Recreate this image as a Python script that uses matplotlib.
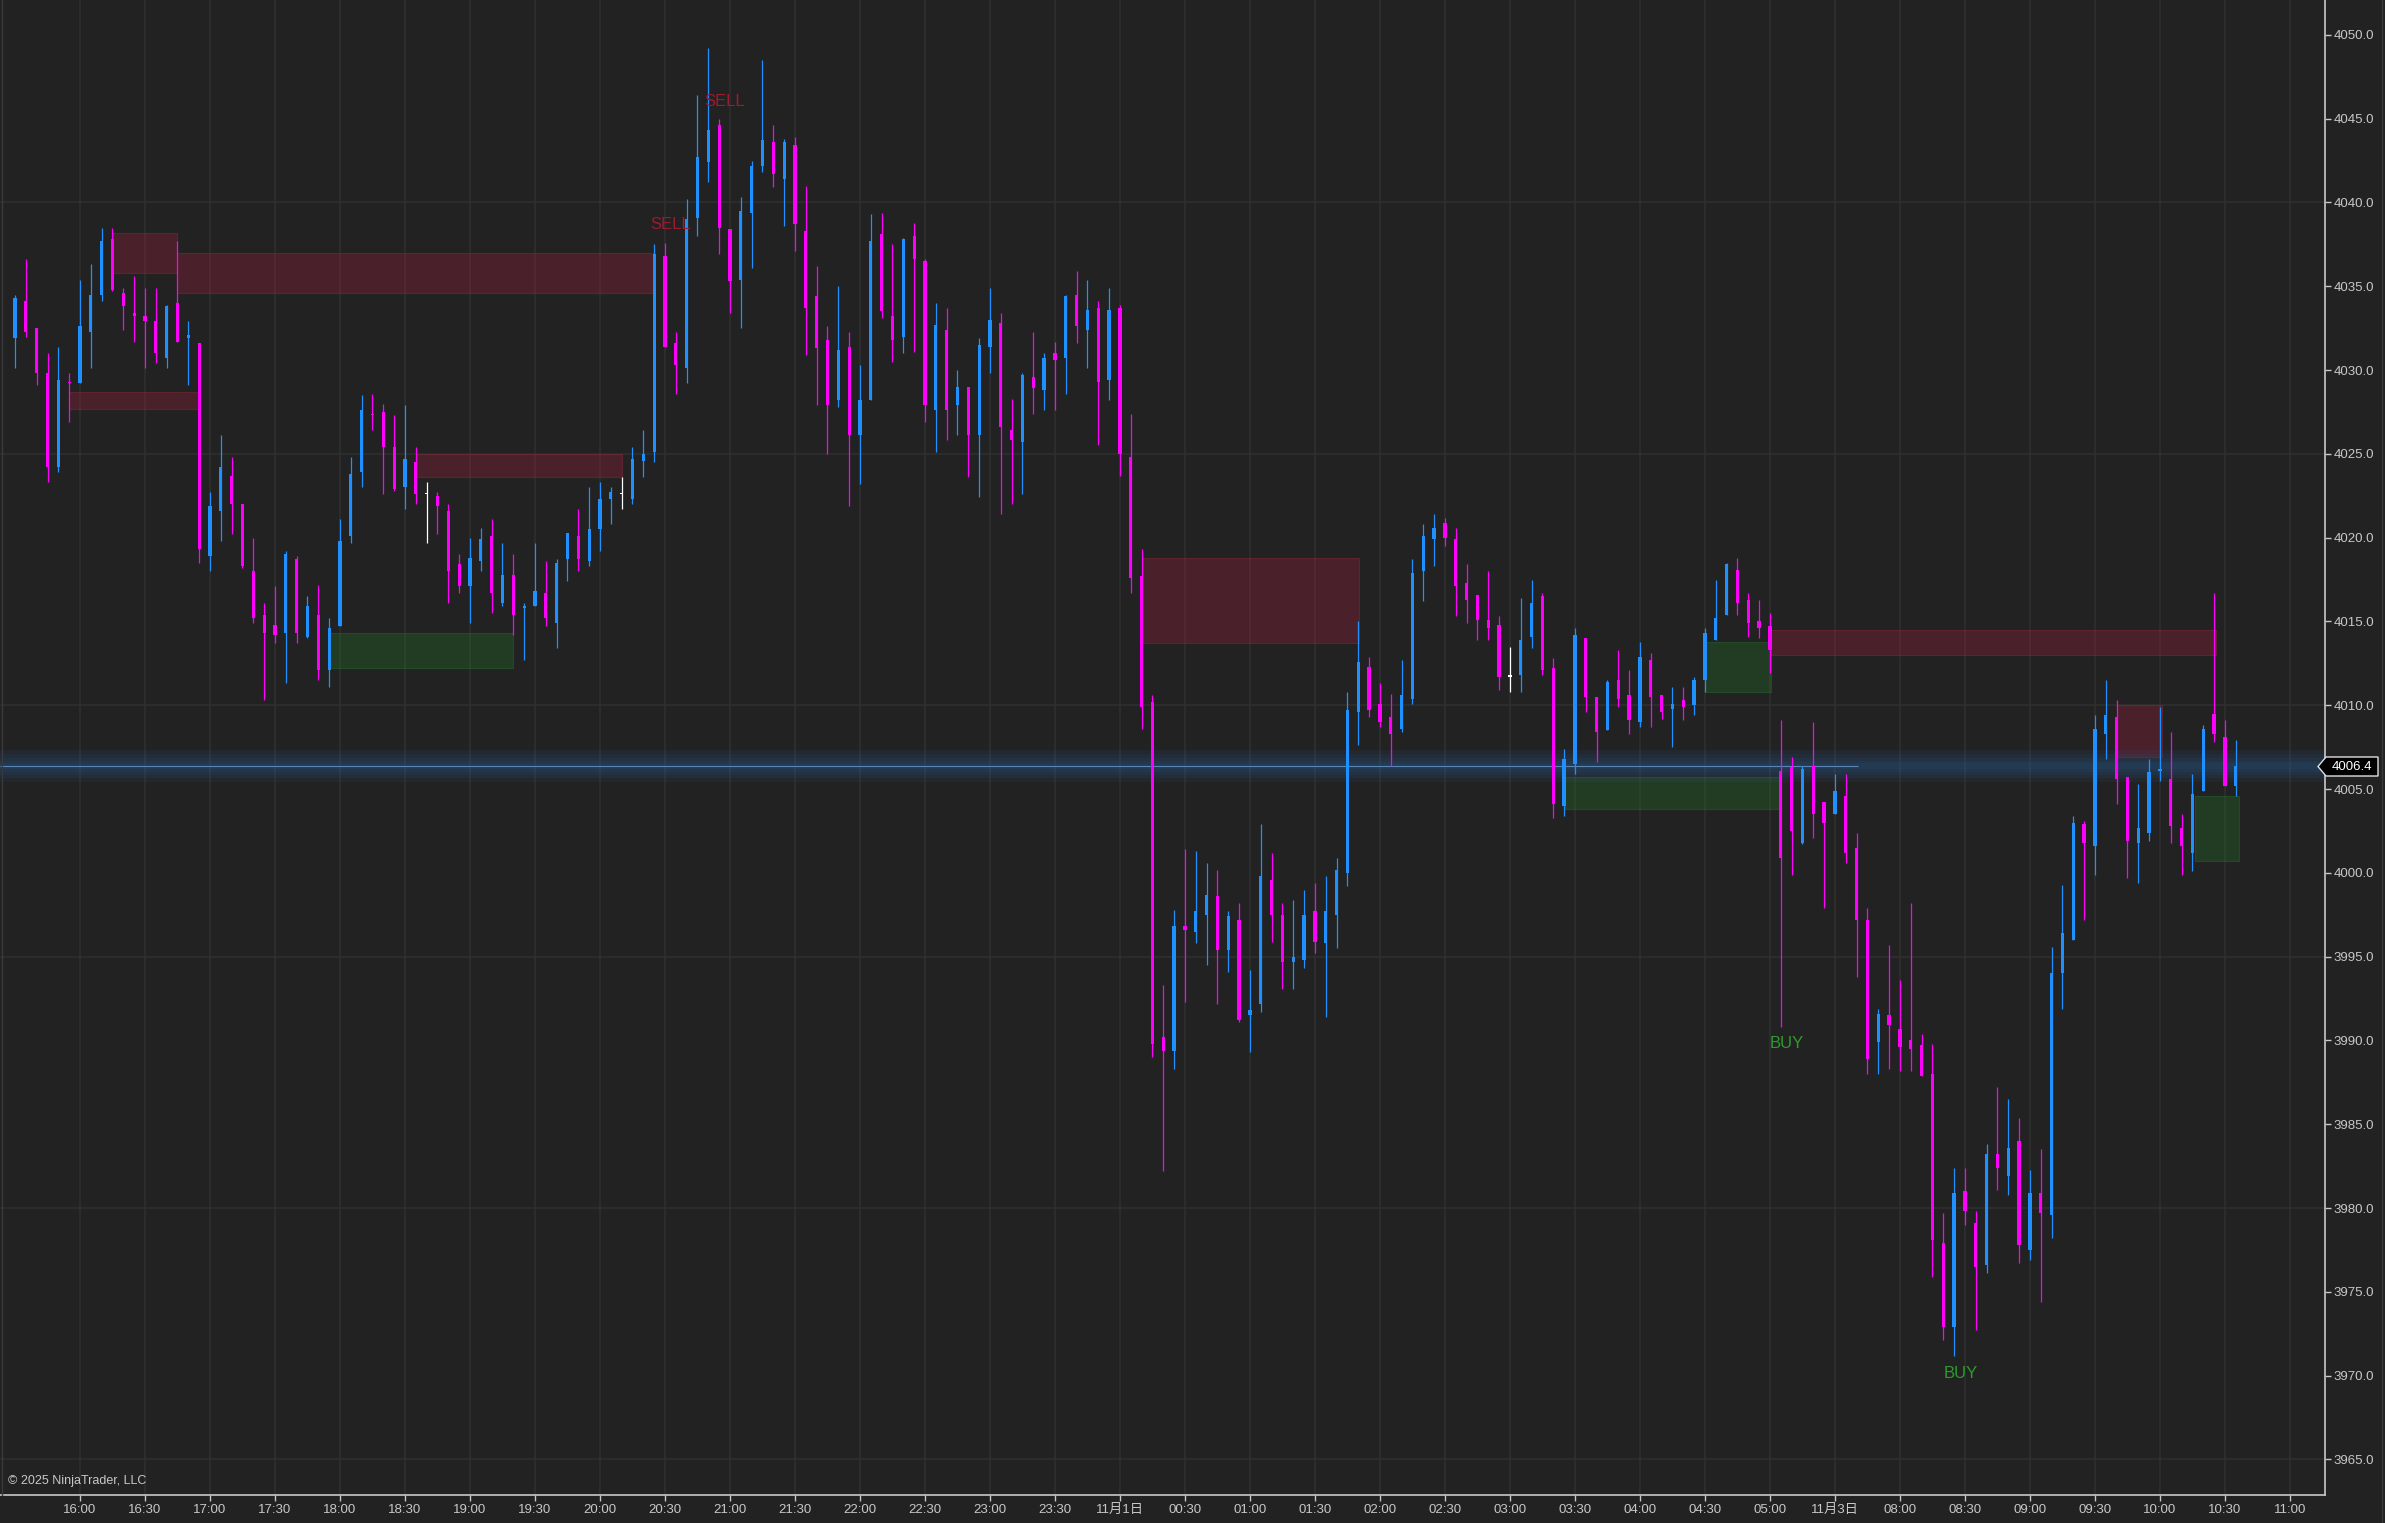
import matplotlib
matplotlib.use('Agg')
import matplotlib.pyplot as plt
import numpy as np
from matplotlib.patches import Rectangle, Polygon
from matplotlib.lines import Line2D

# 5-minute bars, 15:30 (Oct 31) .. 05:00 (Nov 1), then 07:05 .. 10:35 (Nov 3)
opens = [4031.9, 4034.1, 4032.5, 4029.8, 4024.2, 4029.3, 4029.2, 4032.3, 4034.5, 4037.8,
         4034.6, 4033.4, 4033.2, 4032.9, 4030.7, 4034.0, 4031.9, 4031.6, 4018.9, 4021.6,
         4023.7, 4022.0, 4018.0, 4015.4, 4014.8, 4014.3, 4018.7, 4014.1, 4015.4, 4012.1,
         4014.7, 4020.1, 4023.9, 4027.4, 4027.5, 4025.4, 4023.0, 4024.5, 4022.6, 4022.5,
         4021.6, 4018.4, 4017.1, 4018.6, 4020.1, 4016.1, 4017.8, 4015.8, 4015.9, 4016.7,
         4014.9, 4018.7, 4020.1, 4018.6, 4020.5, 4022.3, 4022.6, 4022.3, 4024.6, 4025.1,
         4036.8, 4031.6, 4030.1, 4039.1, 4042.4, 4044.6, 4038.4, 4035.4, 4039.4, 4042.2,
         4043.6, 4041.4, 4043.4, 4038.3, 4034.4, 4031.8, 4028.2, 4031.4, 4026.1, 4028.2,
         4038.1, 4033.2, 4032.0, 4038.0, 4036.5, 4027.6, 4032.4, 4027.9, 4029.0, 4026.1,
         4031.4, 4032.8, 4026.4, 4025.7, 4029.6, 4028.8, 4031.0, 4030.7, 4034.5, 4032.4,
         4033.7, 4029.4, 4033.7, 4024.8, 4017.7, 4010.2, 3990.2, 3989.4, 3996.8, 3996.5,
         3997.5, 3998.6, 3995.4, 3997.2, 3991.5, 3992.2, 3999.6, 3997.5, 3994.7, 3994.8,
         3997.7, 3995.8, 3997.5, 4000.0, 4009.6, 4012.3, 4010.1, 4009.3, 4008.6, 4010.4,
         4018.0, 4019.9, 4020.9, 4019.9, 4017.3, 4016.6, 4015.1, 4014.8, 4011.7, 4011.8,
         4014.1, 4016.5, 4012.2, 4004.0, 4006.5, 4014.0, 4010.5, 4008.5, 4011.5, 4010.6,
         4009.0, 4012.7, 4010.6, 4009.8, 4010.3, 4010.0, 4011.5, 4013.9, 4015.4, 4018.1,
         4016.3, 4015.0, 4014.7, 4006.1, 4006.3, 4001.8, 4006.4, 4004.2, 4003.5, 4004.6,
         4001.5, 3997.2, 3989.9, 3991.5, 3990.7, 3990.0, 3989.7, 3988.0, 3977.9, 3972.9,
         3981.0, 3979.1, 3976.6, 3983.2, 3981.9, 3984.0, 3977.5, 3980.9, 3979.6, 3994.0,
         3996.0, 4002.9, 4001.6, 4008.3, 4009.3, 4005.7, 4001.8, 4002.4, 4006.1, 4005.6,
         4002.7, 4001.2, 4004.9, 4009.5, 4008.1, 4005.2]
highs = [4034.5, 4036.6, 4032.5, 4031.0, 4031.4, 4029.8, 4035.4, 4036.3, 4038.5, 4038.5,
         4034.9, 4035.6, 4034.9, 4034.9, 4033.9, 4037.7, 4032.9, 4031.6, 4022.7, 4026.1,
         4024.8, 4022.0, 4020.0, 4016.1, 4017.1, 4019.2, 4018.9, 4016.5, 4017.2, 4015.2,
         4021.1, 4024.8, 4028.5, 4028.6, 4028.0, 4027.3, 4027.9, 4025.4, 4023.3, 4022.7,
         4022.0, 4019.0, 4020.0, 4020.6, 4021.1, 4019.7, 4019.0, 4016.1, 4019.7, 4018.6,
         4018.7, 4020.3, 4021.7, 4023.0, 4023.3, 4023.0, 4023.6, 4025.4, 4026.4, 4037.5,
         4037.6, 4032.3, 4040.2, 4046.4, 4049.2, 4045.0, 4038.4, 4040.3, 4042.5, 4048.5,
         4044.6, 4043.8, 4043.9, 4041.0, 4036.2, 4032.6, 4035.0, 4032.3, 4030.3, 4039.3,
         4039.4, 4037.5, 4037.9, 4038.8, 4036.6, 4034.0, 4033.7, 4030.0, 4029.0, 4031.9,
         4034.9, 4033.4, 4028.3, 4029.8, 4032.3, 4031.0, 4031.7, 4034.5, 4035.9, 4035.4,
         4034.1, 4034.9, 4033.9, 4027.4, 4019.3, 4010.6, 3993.3, 3997.8, 4001.4, 4001.3,
         4000.6, 4000.2, 3997.7, 3998.2, 3994.2, 4002.9, 4001.2, 3998.2, 3998.4, 3999.0,
         3999.4, 3999.8, 4000.9, 4010.8, 4015.0, 4012.9, 4011.3, 4010.7, 4012.7, 4018.7,
         4020.8, 4021.4, 4021.2, 4020.6, 4018.4, 4016.6, 4018.0, 4015.3, 4013.5, 4016.4,
         4017.5, 4016.7, 4012.8, 4007.4, 4014.6, 4014.0, 4010.5, 4011.5, 4013.3, 4012.1,
         4013.8, 4013.1, 4010.6, 4011.1, 4011.1, 4011.7, 4014.6, 4017.5, 4018.5, 4018.8,
         4016.7, 4016.3, 4015.5, 4009.1, 4006.9, 4006.4, 4009.0, 4004.2, 4005.9, 4005.9,
         4002.4, 3997.9, 3991.9, 3995.7, 3993.6, 3998.2, 3990.4, 3989.8, 3979.7, 3982.4,
         3982.4, 3979.8, 3983.8, 3987.2, 3986.5, 3985.4, 3982.3, 3983.5, 3995.6, 3999.3,
         4003.4, 4003.1, 4009.4, 4011.5, 4010.3, 4005.7, 4005.3, 4006.8, 4009.9, 4008.4,
         4003.5, 4005.9, 4008.8, 4016.7, 4009.1, 4007.9]
lows = [4030.1, 4032.0, 4029.1, 4023.3, 4023.9, 4026.9, 4029.2, 4030.1, 4034.1, 4034.7,
        4032.4, 4031.7, 4030.1, 4030.4, 4030.1, 4031.7, 4029.1, 4018.5, 4018.0, 4019.8,
        4020.2, 4018.2, 4014.9, 4010.3, 4013.7, 4011.3, 4013.7, 4014.0, 4011.5, 4011.1,
        4014.7, 4019.7, 4023.0, 4026.4, 4022.6, 4022.8, 4021.7, 4022.0, 4019.7, 4020.2,
        4016.1, 4016.7, 4014.9, 4018.0, 4015.5, 4015.9, 4014.2, 4012.7, 4015.9, 4014.7,
        4013.4, 4017.4, 4018.0, 4018.3, 4019.2, 4020.8, 4021.7, 4022.0, 4023.6, 4024.5,
        4031.4, 4028.6, 4029.2, 4038.0, 4041.2, 4036.9, 4033.4, 4032.5, 4036.1, 4041.8,
        4040.9, 4038.6, 4037.1, 4030.9, 4027.9, 4025.0, 4027.8, 4021.9, 4023.2, 4028.2,
        4033.1, 4030.5, 4031.0, 4031.1, 4026.9, 4025.1, 4025.8, 4026.1, 4023.6, 4022.4,
        4029.8, 4021.4, 4022.0, 4022.6, 4027.4, 4027.6, 4027.6, 4028.6, 4031.6, 4030.1,
        4025.5, 4028.2, 4023.7, 4016.7, 4008.6, 3989.0, 3982.2, 3988.3, 3992.3, 3995.8,
        3994.5, 3992.2, 3994.1, 3991.1, 3989.3, 3991.7, 3995.9, 3993.1, 3993.1, 3994.3,
        3995.2, 3991.4, 3995.5, 3999.2, 4007.6, 4009.3, 4008.7, 4006.4, 4008.4, 4010.1,
        4016.2, 4018.3, 4019.5, 4015.3, 4014.9, 4013.9, 4013.9, 4010.9, 4010.8, 4010.8,
        4013.4, 4011.8, 4003.3, 4003.4, 4005.9, 4009.6, 4006.6, 4008.5, 4009.9, 4008.3,
        4008.7, 4008.7, 4009.2, 4007.5, 4009.1, 4009.4, 4010.8, 4013.9, 4015.4, 4015.4,
        4014.1, 4014.0, 4011.9, 3990.8, 3999.9, 4001.7, 4002.1, 3997.9, 4003.5, 4000.6,
        3993.8, 3988.0, 3988.0, 3988.3, 3988.2, 3988.2, 3987.9, 3975.9, 3972.1, 3971.2,
        3979.0, 3972.7, 3976.1, 3981.1, 3980.8, 3976.7, 3976.9, 3974.4, 3978.2, 3991.9,
        3996.0, 3997.2, 3999.9, 4006.8, 4004.1, 3999.7, 3999.4, 4001.9, 4005.5, 4001.8,
        3999.9, 4000.1, 4004.9, 4007.8, 4005.2, 4004.6]
closes = [4034.3, 4032.3, 4029.8, 4024.2, 4029.4, 4029.2, 4032.6, 4034.5, 4037.7, 4034.8,
          4033.8, 4033.2, 4032.9, 4031.0, 4033.8, 4031.7, 4032.1, 4019.3, 4021.9, 4024.2,
          4022.0, 4018.3, 4015.2, 4014.3, 4014.2, 4019.0, 4014.3, 4015.9, 4012.1, 4014.6,
          4019.8, 4023.8, 4027.6, 4027.3, 4025.4, 4022.9, 4024.7, 4022.6, 4022.6, 4021.9,
          4018.0, 4017.1, 4018.8, 4019.9, 4016.7, 4017.8, 4015.4, 4015.9, 4016.8, 4015.2,
          4018.5, 4020.3, 4018.7, 4020.5, 4022.3, 4022.7, 4022.6, 4024.7, 4025.0, 4036.9,
          4031.4, 4030.3, 4039.0, 4042.7, 4044.3, 4038.5, 4035.3, 4039.5, 4042.2, 4043.7,
          4041.7, 4043.6, 4038.7, 4033.7, 4031.3, 4027.9, 4031.2, 4026.1, 4028.2, 4037.7,
          4033.5, 4031.8, 4037.8, 4036.6, 4027.9, 4032.7, 4027.6, 4029.0, 4026.1, 4031.5,
          4033.0, 4026.6, 4025.8, 4029.7, 4028.9, 4030.7, 4030.6, 4034.4, 4032.6, 4033.6,
          4029.3, 4033.6, 4025.0, 4017.6, 4009.9, 3989.8, 3989.4, 3996.8, 3996.6, 3997.7,
          3998.7, 3995.4, 3997.4, 3991.2, 3991.8, 3999.8, 3997.5, 3994.7, 3995.0, 3997.5,
          3995.9, 3997.7, 4000.2, 4009.7, 4012.6, 4009.7, 4009.0, 4008.3, 4010.6, 4017.9,
          4020.1, 4020.6, 4020.0, 4017.1, 4016.3, 4015.1, 4014.6, 4011.7, 4011.7, 4013.9,
          4016.1, 4012.1, 4004.1, 4006.8, 4014.2, 4010.5, 4008.4, 4011.4, 4010.4, 4009.1,
          4012.9, 4010.5, 4009.6, 4010.1, 4009.9, 4011.5, 4014.3, 4015.2, 4018.4, 4016.1,
          4014.9, 4014.6, 4013.3, 4000.9, 4002.5, 4006.2, 4003.5, 4003.0, 4004.9, 4001.2,
          3997.2, 3988.9, 3991.6, 3990.9, 3989.6, 3989.5, 3987.9, 3978.1, 3972.9, 3980.9,
          3979.8, 3976.5, 3983.2, 3982.4, 3983.6, 3977.8, 3980.9, 3979.7, 3994.0, 3996.4,
          4003.0, 4001.8, 4008.6, 4009.4, 4005.6, 4001.9, 4002.7, 4006.0, 4006.2, 4002.8,
          4001.6, 4004.7, 4008.6, 4008.3, 4005.2, 4006.4]

# time axis labels (every 6 bars)
tick_bars = [6, 12, 18, 24, 30, 36, 42, 48, 54, 60, 66, 72, 78, 84, 90, 96, 102,
             108, 114, 120, 126, 132, 138, 144, 150, 156, 162, 168,
             174, 180, 186, 192, 198, 204, 210]
tick_labels = ['16:00', '16:30', '17:00', '17:30', '18:00', '18:30', '19:00', '19:30',
               '20:00', '20:30', '21:00', '21:30', '22:00', '22:30', '23:00', '23:30',
               '11月1日', '00:30', '01:00', '01:30', '02:00', '02:30', '03:00', '03:30',
               '04:00', '04:30', '05:00', '11月3日', '08:00', '08:30', '09:00', '09:30',
               '10:00', '10:30', '11:00']

# supply / demand zones: start bar, end bar, low, high
red_start = [9, 15, 5, 37, 104, 162, 194]
red_end = [15, 59, 17, 56, 124.1, 203.2, 198.2]
red_low = [4035.8, 4034.6, 4027.7, 4023.6, 4013.7, 4013.0, 4006.9]
red_high = [4038.2, 4037.0, 4028.7, 4025.0, 4018.8, 4014.5, 4010.0]
green_start = [29, 143.1, 156, 201.2]
green_end = [46, 163, 162.1, 205.3]
green_low = [4012.2, 4003.8, 4010.8, 4000.7]
green_high = [4014.3, 4005.7, 4013.8, 4004.6]

# signal labels: bar, price
sell_bars = [58.6, 63.6]
sell_prices = [4038.7, 4046.0]
buy_bars = [162.0, 178.0]
buy_prices = [3989.8, 3970.1]

last_price = 4006.4

BG = '#222222'
GRID = '#303030'
AXC = '#c8c8c8'
UP = '#1e90ff'
DOWN = '#ff00ff'

plt.rcParams['font.family'] = ['Liberation Sans', 'Noto Sans CJK SC']

W, H, DPI = 2385, 1523, 100
fig = plt.figure(figsize=(W / DPI, H / DPI), dpi=DPI, facecolor=BG)
ax = fig.add_axes([0, 28 / H, 2325 / W, 1495 / H])
ax.set_facecolor(BG)
ax.set_xlim(-1.385, 213.24)
ax.set_ylim(3962.88, 4052.08)

# grid
for p in np.arange(3965, 4052, 15):
    ax.axhline(p, color=GRID, lw=1.1, zorder=0)
for t in tick_bars:
    ax.axvline(t, color=GRID, lw=1.1, zorder=0)

# zones
for s, e, lo, hi in zip(red_start, red_end, red_low, red_high):
    ax.add_patch(Rectangle((s, lo), e - s, hi - lo, facecolor='#a0203c', alpha=0.32,
                           edgecolor='#b02a45', lw=0.8, zorder=1))
for s, e, lo, hi in zip(green_start, green_end, green_low, green_high):
    ax.add_patch(Rectangle((s, lo), e - s, hi - lo, facecolor='#228b2a', alpha=0.25,
                           edgecolor='#2a9a32', lw=0.8, zorder=1))

# last price line with a soft glow
for w in [32, 24, 17, 11, 6]:
    ax.axhline(last_price, color='#2c5d94', lw=w * 0.72, alpha=0.11, zorder=2)
ax.hlines(last_price, -1.385, 170.1, color='#5a86b4', lw=0.8, zorder=2)

# candles
o = np.array(opens)
h = np.array(highs)
l = np.array(lows)
c = np.array(closes)
x = np.arange(len(o))
cols = np.where(c > o, UP, np.where(c < o, DOWN, '#ffffff'))
ax.vlines(x, l, h, colors=cols, lw=0.9, zorder=3)
body_lo = np.minimum(o, c)
body_h = np.maximum(np.abs(c - o), 0.09)
ax.bar(x, body_h, bottom=body_lo, width=0.3, color=cols, linewidth=0, zorder=4)

# signal texts
for b, p in zip(sell_bars, sell_prices):
    ax.text(b, p, 'SELL', color='#9b1b30', fontsize=12, ha='left', va='center', zorder=5)
for b, p in zip(buy_bars, buy_prices):
    ax.text(b, p, 'BUY', color='#2e9a2e', fontsize=12, ha='left', va='center', zorder=5)

# axes styling
for side in ['top', 'left']:
    ax.spines[side].set_visible(False)
for side in ['right', 'bottom']:
    ax.spines[side].set_color(AXC)
    ax.spines[side].set_linewidth(1.2)
ax.yaxis.tick_right()
ax.set_yticks(np.arange(3965, 4051, 5))
ax.set_yticklabels(['%.1f' % v for v in np.arange(3965, 4051, 5)])
ax.set_xticks(tick_bars)
ax.set_xticklabels(tick_labels)
ax.tick_params(axis='y', direction='out', length=4.5, width=1, color=AXC,
               labelcolor=AXC, labelsize=9.5, pad=1.5)
ax.tick_params(axis='x', direction='out', length=4.5, width=1, color=AXC,
               labelcolor=AXC, labelsize=9.5, pad=2)

# current price marker on the price axis
def fx(px):
    return px / W

def fy(py):
    return 1 - py / H

yc = 766.5
pts = [(fx(2318), fy(yc)), (fx(2326), fy(yc - 9.5)), (fx(2378), fy(yc - 9.5)),
       (fx(2378), fy(yc + 9.5)), (fx(2326), fy(yc + 9.5))]
fig.add_artist(Polygon(pts, closed=True, facecolor='#000000', edgecolor='#e0e0e0',
                       lw=1, transform=fig.transFigure, zorder=10))
fig.text(fx(2352), fy(yc), '%.1f' % last_price, color='white', fontsize=9.5,
         ha='center', va='center', zorder=11)

# borders
fig.add_artist(Line2D([fx(2), fx(2)], [fy(0), fy(1495)], color='#3a3a3a', lw=1,
                      transform=fig.transFigure))
fig.add_artist(Line2D([fx(2382), fx(2382)], [0, 1], color='#3a3a3a', lw=1,
                      transform=fig.transFigure))

fig.text(fx(8), fy(1481), '© 2025 NinjaTrader, LLC', color=AXC, fontsize=9,
         ha='left', va='center')

fig.savefig('out.png', dpi=DPI, facecolor=BG)
